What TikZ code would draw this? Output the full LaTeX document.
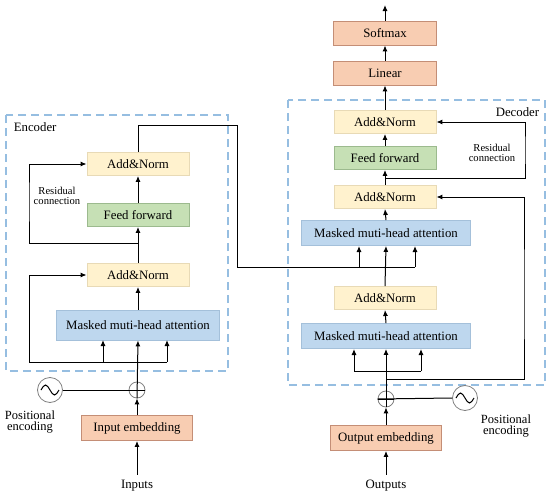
\documentclass[tikz,border=0pt]{standalone}
\usepackage{fontspec}
\setmainfont{Liberation Serif}
\usetikzlibrary{arrows.meta,calc}
\definecolor{embfill}{RGB}{248,205,178}
\definecolor{embline}{RGB}{196,142,118}
\definecolor{normfill}{RGB}{255,242,206}
\definecolor{normline}{RGB}{232,218,182}
\definecolor{fffill}{RGB}{198,224,181}
\definecolor{ffline}{RGB}{156,186,142}
\definecolor{attfill}{RGB}{190,215,238}
\definecolor{attline}{RGB}{164,192,218}
\definecolor{frameblue}{RGB}{150,190,225}
\tikzset{
	block/.style={draw, line width=0.9pt, inner sep=0pt, minimum height=23pt,
		font=\fontsize{12.8}{14}\selectfont},
	embbox/.style={block, fill=embfill, draw=embline, minimum width=111pt, minimum height=25pt},
	outbox/.style={block, fill=embfill, draw=embline, minimum width=103pt, minimum height=24pt},
	normbox/.style={block, fill=normfill, draw=normline, minimum width=102pt},
	ffbox/.style={block, fill=fffill, draw=ffline, minimum width=102pt},
	attbox/.style={block, fill=attfill, draw=attline, minimum height=25pt},
	plusnode/.style={circle, draw=gray, line width=0.8pt, minimum size=16pt, inner sep=0pt},
	posnode/.style={circle, draw=gray, line width=0.8pt, minimum size=25pt, inner sep=0pt},
	frame/.style={draw=frameblue, line width=1.1pt, dash pattern=on 8pt off 5pt},
	lbl/.style={font=\fontsize{12.8}{14}\selectfont},
	small/.style={font=\fontsize{10.6}{13}\selectfont, align=center},
	poslbl/.style={font=\fontsize{12.5}{14}\selectfont, align=center},
	arr/.style={-{Latex[length=6pt,width=5pt]}},
	wire/.style={line width=1pt}
}
\begin{document}
\begin{tikzpicture}[x=1pt,y=-1pt,wire]
  \useasboundingbox (0,0) rectangle (550,498);

  % encoder
  \draw[frame] (6,115) rectangle (228,371);
  \node[lbl, anchor=west] (enctitle) at (10,127) {Encoder};
  \node[normbox] (enorm2) at (138,164) {Add\&Norm};
  \node[ffbox] (eff) at (138,215) {Feed forward};
  \node[normbox] (enorm1) at (138,275) {Add\&Norm};
  \node[attbox, minimum width=163pt, minimum height=30pt] (eatt) at (138,325) {Masked muti-head attention};
  \node[small] (eres) at (57,196) {Residual\\[-3pt]connection};

  \node[plusnode] (eplus) at (137,390) {};
  \node[posnode] (epos) at (50,390) {};
  \node[embbox] (eemb) at (137,428) {Input embedding};
  \node[lbl] (inputs) at (137,486) {Inputs};
  \node[poslbl] (epostxt) at (30,422) {Positional\\[-3pt]encoding};

  \draw ($(epos)+(-9,0)$) sin ++(4.5,-5) cos ++(4.5,5) sin ++(4.5,5) cos ++(4.5,-5);
  \draw (epos.east) -- (eplus.east);
  \draw (eplus.west) -- (eplus.east);
  \draw[arr] ($(inputs.north)+(0,-2)$) -- (eemb.south);
  \draw[arr] (eemb.north) -- (eplus.south);
  \draw[arr] (eplus.south) -- (eatt.south);

  \coordinate (ebus) at (137,362);
  \draw (29,362) -- (167,362);
  \draw[arr] (103,362) -- (103,340);
  \draw[arr] (167,362) -- (167,340);
  \draw[arr] (29,362) |- (enorm1.west);
  \draw[arr] (eatt.north) -- (enorm1.south);
  \draw[arr] (enorm1.north) -- (eff.south);
  \draw[arr] (138,243) -| (29,200) |- (enorm2.west);
  \draw[arr] (eff.north) -- (enorm2.south);
  \draw (enorm2.north) -- (138,125) -| (237,267) -- (415,267);

  % decoder
  \draw[frame] (288,100) rectangle (545,385);
  \node[lbl, anchor=east] (dectitle) at (543,112) {Decoder};
  \node[outbox] (softmax) at (385,33) {Softmax};
  \node[outbox] (linear) at (385,73) {Linear};
  \node[normbox] (dnorm3) at (385,122) {Add\&Norm};
  \node[ffbox] (dff) at (385,158) {Feed forward};
  \node[normbox] (dnorm2) at (385,197) {Add\&Norm};
  \node[attbox, minimum width=169pt] (datt2) at (386,233) {Masked muti-head attention};
  \node[normbox] (dnorm1) at (385,298) {Add\&Norm};
  \node[attbox, minimum width=169pt] (datt1) at (386,336) {Masked muti-head attention};
  \node[small] (dres) at (492,153) {Residual\\[-3pt]connection};

  \node[plusnode] (dplus) at (386,399) {};
  \node[posnode] (dpos) at (465,398) {};
  \node[embbox] (demb) at (386,438) {Output embedding};
  \node[lbl] (outputs) at (386,486) {Outputs};
  \node[poslbl] (dpostxt) at (506,426) {Positional\\[-3pt]encoding};

  \draw ($(dpos)+(-9,0)$) sin ++(4.5,-5) cos ++(4.5,5) sin ++(4.5,5) cos ++(4.5,-5);
  \draw (dpos.west) -- (dplus.west);
  \draw (dplus.west) -- (dplus.east);
  \draw[arr] ($(outputs.north)+(0,-2)$) -- (demb.south);
  \draw[arr] (demb.north) -- (dplus.south);
  \draw[arr] (dplus.south) -- (datt1.south);

  \draw (354,371) -- (421,371);
  \draw[arr] (354,371) -- (354,349);
  \draw[arr] (421,371) -- (421,349);
  \draw[arr] (386,379) -| (524,300) |- (dnorm2.east);
  \draw[arr] (datt1.north) -- (dnorm1.south);
  \draw[arr] (dnorm1.north) -- (datt2.south);
  \draw[arr] (359,267) -- (359,246);
  \draw[arr] (415,267) -- (415,246);
  \draw[arr] (datt2.north) -- (dnorm2.south);
  \draw[arr] (dnorm2.north) -- (dff.south);
  \draw[arr] (386,178) -| (525,150) |- (dnorm3.east);
  \draw[arr] (dff.north) -- (dnorm3.south);
  \draw[arr] (dnorm3.north) -- (linear.south);
  \draw[arr] (linear.north) -- (softmax.south);
  \draw[arr] (softmax.north) -- (385,5);
\end{tikzpicture}
\end{document}
